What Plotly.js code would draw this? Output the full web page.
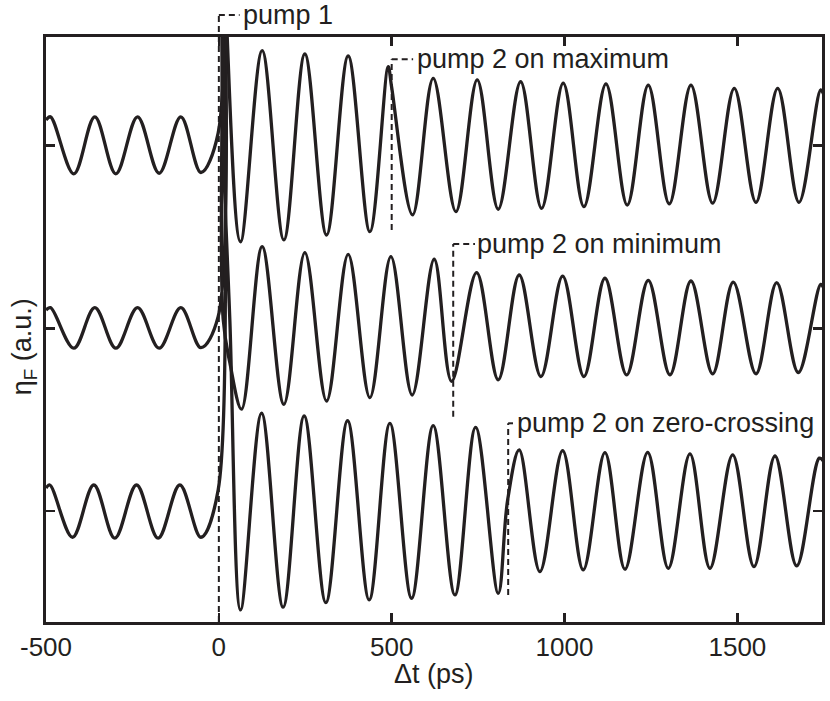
<!DOCTYPE html>
<html>
<head>
<meta charset="utf-8">
<script src="https://cdn.plot.ly/plotly-3.0.1.min.js"></script>
<style>html,body{margin:0;padding:0;background:#fff;}#chart{width:830px;height:701px;}</style>
</head>
<body>
<div id="chart"></div>
<script>
// time axis (ps) and signal (a.u., relative to each trace's baseline)
const tTop = [-500,-487,-419.6,-358.8,-298,-235.2,-172.7,-110,-52,-2, 6,24, 62.8,125.3,188.1,248.8,311.6,374.1,436.9,489.9,499.7, 560.5,620.1,685.8,747.4,808.2,873,933.7,996.2,1056.1,1119.8, 1181.4,1242.2,1303,1365.7,1428.5,1491,1553.8,1616.6,1678.2,1741, 1750];
const sTop = [0.141,0.158,-0.154,0.158,-0.154,0.158,-0.151,0.158,-0.147,0.069, 2.5,0.606, -0.526,0.520,-0.516,0.502,-0.489,0.491,-0.471,0.432,0.323, -0.379,0.369,-0.361,0.360,-0.348,0.350,-0.343,0.342,-0.334,0.338, -0.325,0.332,-0.319,0.332,-0.315,0.314,-0.310,0.314,-0.310,0.305, 0.28];

const tMid = [-500,-487,-419.6,-358.8,-298,-235.2,-172.7,-110,-52,-2, 4,10,12.5,32, 65.7,125.3,188.1,248.8,311.6,374.1,436.9,497.7,559.3,623,673.3, 745.7,808.2,868.9,931.7,994.5,1056.1,1116.9,1179.7,1242.2,1305, 1365.7,1428.5,1488.1,1553.8,1613.7,1676.2,1741,1750];
const sMid = [0.100,0.113,-0.109,0.113,-0.109,0.113,-0.109,0.113,-0.106,0.064, 3.0,1.6,0.05,-0.19, -0.443,0.447,-0.416,0.414,-0.398,0.405,-0.379,0.392,-0.365,0.378,-0.290, 0.305,-0.282,0.292,-0.264,0.286,-0.264,0.274,-0.255,0.263,-0.255, 0.259,-0.249,0.253,-0.249,0.250,-0.242,0.241,0.22];

const tBot = [-500,-489,-423.3,-361.7,-300.9,-238.1,-175.6,-112.8,-52,-2, 4,9,12.7,31.8, 62.8,123.6,186,246.8,309.6,372.4,434.9,494.8,557.6,620.1,682.9,742.8,808.2,835.4, 868.9,928.8,994.5,1054.1,1116.9,1174.8,1240.5,1300.1,1362.8,1420.7,1486.4,1548,1608.8,1671.6,1737,1750];
const sBot = [0.125,0.142,-0.144,0.142,-0.149,0.142,-0.149,0.142,-0.144,0.115, 3.5,2.6,1.99,1.045, -0.542,0.535,-0.527,0.520,-0.502,0.494,-0.487,0.480,-0.478,0.467,-0.460,0.458,-0.451,0.060, 0.334,-0.332,0.330,-0.323,0.319,-0.319,0.321,-0.314,0.312,-0.314,0.307,-0.305,0.301,-0.301,0.289,0.27];

const offsets = [2, 1, 0];

// pump markers
const pumpT = [0, 500, 678, 837];
const pumpLabels = ['pump 1', 'pump 2 on maximum', 'pump 2 on minimum', 'pump 2 on zero-crossing'];
const xTicks = [-500, 0, 500, 1000, 1500];
const yTicks = [0, 1, 2];
const xTitle = 'Δt (ps)';
const yTitle = 'η<sub>F</sub> (a.u.)';

const INK = '#231f20';
const FONT = '"Liberation Sans", Arial, Helvetica, sans-serif';

const series = [[tTop, sTop], [tMid, sMid], [tBot, sBot]];
const traces = series.map(([t, s], i) => ({
  x: t,
  y: s.map(v => v + offsets[i]),
  type: 'scatter',
  mode: 'lines',
  line: {color: INK, width: 3.3, shape: 'spline', smoothing: 1},
  hoverinfo: 'skip',
  showlegend: false
}));

// bracket geometry (layout styling)
const brackets = [
  {yref: 'paper', y0: 0, y1: 1.0376, dx: 60, tx: 68},
  {yref: 'y', y0: 1.538, y1: 2.473, dx: 62, tx: 70},
  {yref: 'y', y0: 0.516, y1: 1.462, dx: 63, tx: 67},
  {yref: 'y', y0: -0.460, y1: 0.480, dx: 14, tx: 23}
];
const dash = {color: INK, width: 2, dash: '6px,4px'};
const shapes = [];
const annotations = [];
pumpT.forEach((t, i) => {
  const b = brackets[i];
  shapes.push({type: 'line', xref: 'x', yref: b.yref, x0: t, x1: t, y0: b.y0, y1: b.y1, line: dash});
  shapes.push({type: 'line', xref: 'x', yref: b.yref, x0: t, x1: t + b.dx, y0: b.y1, y1: b.y1, line: dash});
  annotations.push({
    xref: 'x', yref: b.yref, x: t + b.tx, y: b.y1,
    text: pumpLabels[i], showarrow: false, xanchor: 'left', yanchor: 'middle',
    font: {family: FONT, size: 27, color: INK}, borderpad: 0
  });
});
// axis titles placed as annotations
annotations.push({
  xref: 'paper', yref: 'paper', x: -0.028, y: 0.47,
  text: yTitle, textangle: -90, showarrow: false, xanchor: 'center', yanchor: 'middle',
  font: {family: FONT, size: 27, color: INK}
});
annotations.push({
  xref: 'paper', yref: 'paper', x: 0.5, y: -0.089,
  text: xTitle, showarrow: false, xanchor: 'center', yanchor: 'middle',
  font: {family: FONT, size: 27, color: INK}
});

const layout = {
  width: 830, height: 701,
  margin: {l: 46, r: 8, t: 37, b: 79},
  paper_bgcolor: '#fff', plot_bgcolor: '#fff',
  font: {family: FONT, color: INK},
  xaxis: {
    range: [-500, 1744.8], tickvals: xTicks, ticktext: xTicks.map(String),
    ticks: 'inside', ticklen: 9, tickwidth: 2.5, tickcolor: INK,
    showline: true, linewidth: 3, linecolor: INK, mirror: 'ticks',
    showgrid: false, zeroline: false,
    tickfont: {family: FONT, size: 26, color: INK}
  },
  yaxis: {
    range: [-0.608, 2.595], tickvals: yTicks, showticklabels: false,
    ticks: 'inside', ticklen: 9, tickwidth: 2.5, tickcolor: INK,
    showline: true, linewidth: 3, linecolor: INK, mirror: 'ticks',
    showgrid: false, zeroline: false
  },
  shapes: shapes,
  annotations: annotations
};

Plotly.newPlot('chart', traces, layout, {displayModeBar: false, staticPlot: true});
</script>
</body>
</html>
